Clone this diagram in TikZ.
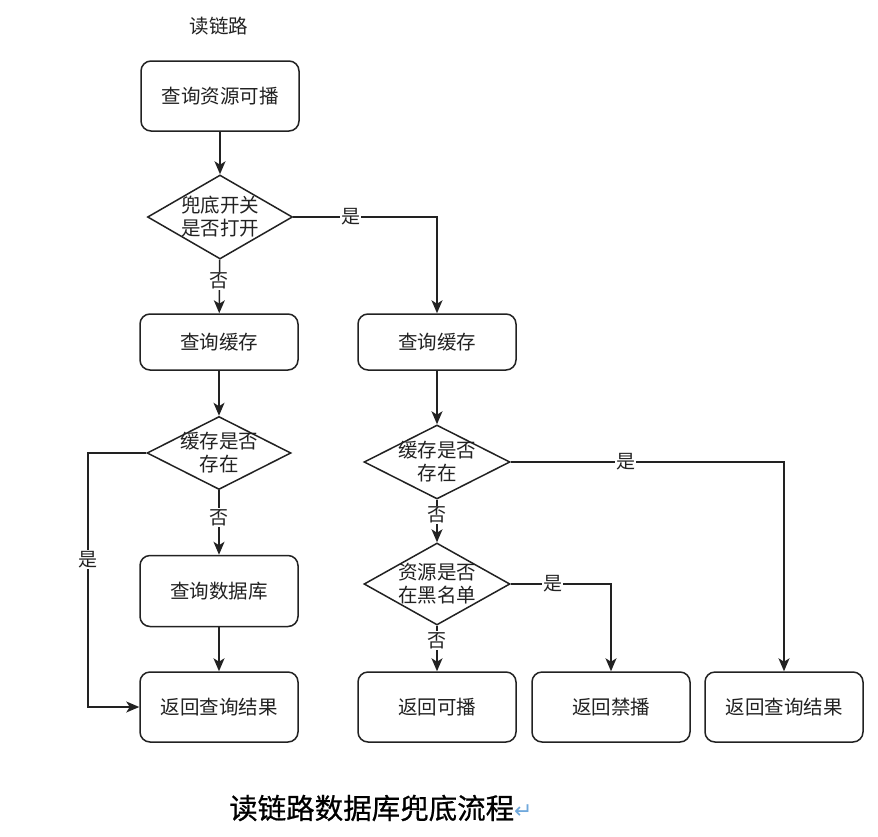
\documentclass[tikz,border=0pt]{standalone}
\usepackage{fontspec}
\setmainfont{Noto Sans CJK SC}
\newfontfamily\capfont[FakeBold=0.6]{Noto Sans CJK SC}
\newfontfamily\symfont{DejaVu Sans}
\usetikzlibrary{shapes.geometric,arrows.meta}
\definecolor{ink}{HTML}{222222}
\definecolor{retblue}{HTML}{6FA8DC}
\begin{document}
\begin{tikzpicture}[x=1pt,y=-1pt,
  box/.style={draw=ink, line width=1.5pt, rounded corners=10pt, minimum width=158pt, minimum height=70pt, font=\fontsize{19.5}{22}\selectfont, text=ink},
  dia/.style={draw=ink, line width=1.5pt, diamond, inner sep=0pt, minimum width=145pt, minimum height=84pt},
  dtext/.style={align=center, inner sep=0pt, font=\fontsize{19.5}{23}\selectfont, text=ink},
  arr/.style={draw=ink, line width=1.4pt, -{Stealth[length=13pt,width=11pt,inset=3.5pt]}},
  lbl/.style={fill=white, inner sep=1pt, font=\fontsize{19}{20}\selectfont, text=ink}]
\useasboundingbox (0,0) rectangle (878,836);
\fill[white] (0,0) rectangle (878,836);

\node[font=\fontsize{19.5}{22}\selectfont, text=ink] (title) at (219,26) {读链路};

\node[box] (b1) at (220,96) {查询资源可播};
\node[dia, label={[dtext]center:兜底开关\\是否打开}] (d1) at (220,217) {};
\node[box, minimum height=56pt] (b2) at (219,342) {查询缓存};
\node[box, minimum height=56pt] (b3) at (437,342) {查询缓存};
\node[dia, minimum width=144pt, minimum height=73pt, label={[dtext]center:缓存是否\\存在}] (d2) at (219,453) {};
\node[box, minimum height=71pt] (b4) at (219,591) {查询数据库};
\node[box] (b5) at (219,707) {返回查询结果};
\node[dia, minimum width=146pt, minimum height=74pt, label={[dtext]center:缓存是否\\存在}] (d3) at (437,462) {};
\node[dia, minimum width=146pt, minimum height=82pt, label={[dtext]center:资源是否\\在黑名单}] (d4) at (437,584) {};
\node[box] (b6) at (437,707) {返回可播};
\node[box] (b7) at (611,707) {返回禁播};
\node[box] (b8) at (784,707) {返回查询结果};

\coordinate (c1) at (88,453);

\draw[arr] (b1) -- (d1);
\draw[arr] (d1) -- node[lbl, pos=0.4]{否} (b2);
\draw[arr] (d1.east) -| node[lbl, pos=0.2]{是} (b3.north);
\draw[arr] (b2) -- (d2);
\draw[arr] (d2) -- node[lbl, pos=0.42]{否} (b4);
\draw[arr] (b4) -- (b5);
\draw[arr] (d2.west) -- (c1) |- node[lbl, pos=0.21]{是} (b5.west);
\draw[arr] (b3) -- (d3);
\draw[arr] (d3.east) -| node[lbl, pos=0.21]{是} (b8.north);
\draw[arr] (d3) -- node[lbl, pos=0.36]{否} (d4);
\draw[arr] (d4.east) -| node[lbl, pos=0.21]{是} (b7.north);
\draw[arr] (d4) -- node[lbl, pos=0.32]{否} (b6);

\node[anchor=west, inner sep=0pt, font=\fontsize{28.5}{30}\selectfont, text=black] (cap) at (229,808) {\capfont 读链路数据库兜底流程{\symfont\fontsize{22}{22}\selectfont\color{retblue}↵}};
\end{tikzpicture}
\end{document}
